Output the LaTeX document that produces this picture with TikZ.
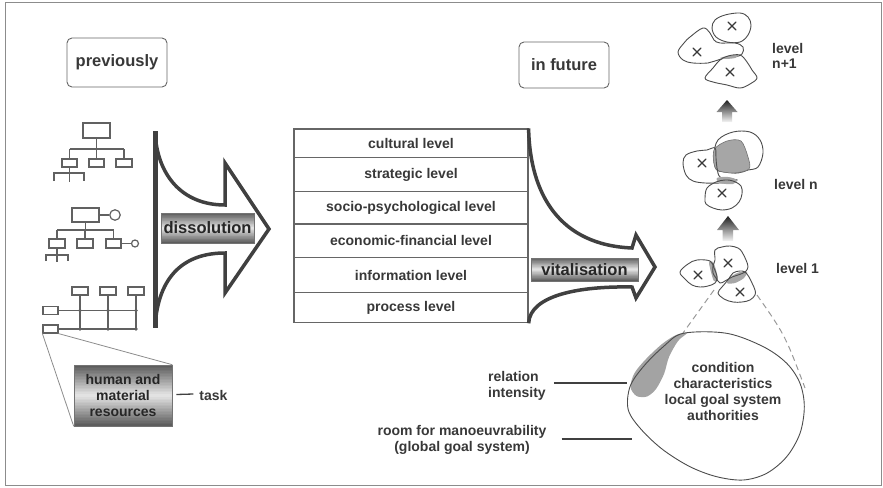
\documentclass[tikz,border=0pt]{standalone}
\usepackage{fontspec}
\setmainfont{Liberation Sans}
\usetikzlibrary{calc}
\begin{document}
\begin{tikzpicture}[x=1pt,y=-1pt,
  txt/.style={font=\fontsize{14}{16}\selectfont\bfseries, text=black!78, align=center, inner sep=0pt},
  headbox/.style={draw=black!60, line width=0.9pt, rounded corners=5pt, fill=white,
    font=\fontsize{16.5}{18}\selectfont\bfseries, text=black!78, inner sep=0pt},
  chart/.style={draw=black!62, line width=1.3pt},
  cbox/.style={draw=black!62, line width=1.2pt, inner sep=0pt},
  bigarrow/.style={draw=black!75, line width=3.5pt, line join=miter, fill=white},
  % banded fill: dark at top and bottom, light in the middle
  banner/.style={draw=black!55, line width=0.6pt, inner sep=0pt,
    path picture={
      \foreach \i in {0,...,39}{
        \pgfmathsetmacro\fa{\i/40}
        \pgfmathsetmacro\fb{(\i+1.3)/40}
        \pgfmathsetmacro\sh{10+55*abs((\i+0.5)/40-0.5)*2}
        \fill[black!\sh]
          ($(path picture bounding box.north west)!\fa!(path picture bounding box.south west)$)
          rectangle
          ($(path picture bounding box.north east)!\fb!(path picture bounding box.south east)$);
      }}},
  bannertxt/.style={inner sep=0pt, align=center},
  row/.style={draw=black!60, line width=1.2pt, minimum width=234pt, inner sep=0pt,
    font=\fontsize{14}{16}\selectfont\bfseries, text=black!78},
  blob/.style={draw=black!70, line width=0.9pt},
  overlap/.style={fill=black!35, draw=black!55, line width=0.6pt},
  cross/.style={draw=black!78, line width=1.1pt, line cap=round},
  uparrow/.style={top color=black!88, bottom color=black!4},
  lvl/.style={font=\fontsize{14}{15}\selectfont\bfseries, text=black!78, align=left, inner sep=0pt, anchor=west},
  zoomline/.style={draw=black!45, line width=0.8pt},
  dashline/.style={draw=black!40, line width=1pt, dash pattern=on 6pt off 4pt},
  xcross/.pic={\draw[cross] (-4,-4) -- (4,4) (-4,4) -- (4,-4);},
]
\useasboundingbox (0,0) rectangle (883,487);
\draw[black!45, line width=1pt] (5,3) rectangle (881,485);

% headings
\node[headbox, minimum width=100pt, minimum height=49pt] (prev) at (117,62.5) {previously};
\node[headbox, minimum width=90pt, minimum height=46pt] (fut) at (564,65) {in future};

% ---- organisation chart 1 ----
\node[cbox, minimum width=27pt, minimum height=15pt] (c1top) at (96.5,130.5) {};
\node[cbox, minimum width=15pt, minimum height=8pt] (c1a) at (69.5,163) {};
\node[cbox, minimum width=15pt, minimum height=8pt] (c1b) at (96.5,163) {};
\node[cbox, minimum width=16pt, minimum height=8pt] (c1c) at (124,163) {};
\coordinate (c1bus) at (96.5,149);
\draw[chart] (c1top.south) -- (c1bus);
\draw[chart] (c1bus -| c1a.north) -- (c1bus -| c1c.north);
\draw[chart] (c1bus -| c1a.north) -- (c1a.north);
\draw[chart] (c1bus) -- (c1b.north);
\draw[chart] (c1bus -| c1c.north) -- (c1c.north);
\draw[chart] (c1a.south) -- ++(0,14);
\draw[chart] (54,181) -- (54,173) -- (84,173) -- (84,181);

% ---- organisation chart 2 ----
\node[cbox, minimum width=27pt, minimum height=14pt] (c2top) at (85.5,215) {};
\node[cbox, circle, minimum size=10.5pt] (c2circ) at (115,215) {};
\node[cbox, minimum width=16pt, minimum height=9pt] (c2a) at (57,243.5) {};
\node[cbox, minimum width=16pt, minimum height=9pt] (c2b) at (85,243.5) {};
\node[cbox, minimum width=15pt, minimum height=9pt] (c2c) at (113.5,243.5) {};
\node[cbox, circle, minimum size=7pt] (c2small) at (135,243.5) {};
\coordinate (c2bus) at (85.5,230);
\draw[chart] (c2top.east) -- (c2circ.west);
\draw[chart] (c2c.east) -- (c2small.west);
\draw[chart] (c2top.south) -- (c2bus);
\draw[chart] (c2bus -| c2a.north) -- (c2bus -| c2c.north);
\draw[chart] (c2bus -| c2a.north) -- (c2a.north);
\draw[chart] (c2bus -| c2b.north) -- (c2b.north);
\draw[chart] (c2bus -| c2c.north) -- (c2c.north);
\draw[chart] (c2a.south) -- ++(0,13);
\draw[chart] (46,261) -- (46,255) -- (68,255) -- (68,261);

% ---- organisation chart 3 (matrix) ----
\foreach \n/\x in {g1/80, g2/108, g3/136}
  \node[cbox, minimum width=16pt, minimum height=8pt] (\n) at (\x,291) {};
\node[cbox, minimum width=15pt, minimum height=8pt] (L1) at (50.5,310.5) {};
\node[cbox, minimum width=15pt, minimum height=8pt] (L2) at (50.5,329) {};
\foreach \n in {g1,g2,g3}
  \draw[chart] (\n.south) -- (\n.south |- L2.east);
\draw[chart] (L1.east) -- (L1.east -| g3.south);
\draw[chart] (L2.east) -- (L2.east -| g3.south);
\foreach \n in {g1,g2,g3}
  \foreach \r in {L1,L2}
    \fill[black!62] (\n.south |- \r.east) circle (1.9pt);

% zoom into resources
\node[banner, minimum width=98pt, minimum height=61pt] (res) at (123,395.5) {};
\node[bannertxt, font=\fontsize{14}{16}\selectfont\bfseries] (restxt) at (res.center)
  {\color{black!85}human and\\\color{black!85}material\\\color{black!85}resources};
\draw[zoomline] (L2.south west) -- (res.south west);
\draw[zoomline] (L2.south east) -- (res.north east);
\node[txt] (task) at (213.5,395) {task};
\draw[black!75, line width=1.3pt] ([xshift=4pt,yshift=1pt]res.east) -- ([xshift=-6pt,yshift=1pt]task.west);

% ---- dissolution arrow ----
\path[bigarrow] (155,132) .. controls (157,175) and (182,205) .. (225,205)
  -- (225,163) -- (269,229) -- (225,293) -- (225,253)
  .. controls (185,253) and (158,275) .. (155,327) -- cycle;
\draw[black!75, line width=5pt] (155,131) -- (155,328);
\node[banner, minimum width=93pt, minimum height=30pt] (diss) at (207.5,228) {};
\node[bannertxt, font=\fontsize{16.5}{18}\selectfont\bfseries] (disstxt) at (diss.center)
  {\color{black!85}dissolution};

% ---- levels ----
\node[row, minimum height=28.3pt] (l1) at (411,143.15) {cultural level};
\node[row, minimum height=34.4pt] (l2) at (411,174.5) {strategic level};
\node[row, minimum height=32.3pt] (l3) at (411,207.85) {socio-psychological level};
\node[row, minimum height=33.7pt] (l4) at (411,240.85) {economic-financial level};
\node[row, minimum height=35pt] (l5) at (411,275.2) {information level};
\node[row, minimum height=30pt] (l6) at (411,307.7) {process level};

% ---- vitalisation arrow ----
\draw[bigarrow, fill=none] (l1.north east) .. controls (530,195) and (560,245) .. (632,248)
  -- (636,235) -- (655,267) -- (636,298) -- (632,287)
  .. controls (580,286) and (530,295) .. (l6.south east);
\node[banner, minimum width=107pt, minimum height=23pt] (vital) at (584.5,269.5) {};
\node[bannertxt, font=\fontsize{16.5}{18}\selectfont\bfseries] (vitaltxt) at (vital.center)
  {\color{black!85}vitalisation};

% ---- level n+1 ----
\draw[blob] plot[smooth cycle, tension=0.6] coordinates {(712,28) (715,20) (725,15) (740,13) (748,17) (751,25) (748,35) (740,42) (727,42) (716,37)};
\draw[blob] plot[smooth cycle, tension=0.6] coordinates {(678,52) (684,43) (690,37) (703,28) (710,33) (714,40) (720,43) (735,43) (743,47) (742,54) (735,57) (725,58) (715,61) (708,63) (693,63) (683,60)};
\fill[black!35] plot[smooth cycle, tension=0.6] coordinates {(720,58) (728,56) (738,55) (735,58) (724,59)};
\draw[blob] plot[smooth cycle, tension=0.6] coordinates {(713,68) (720,60) (728,56) (740,55) (747,62) (752,70) (757,78) (750,84) (740,88) (727,85) (713,82) (705,78)};
\pic at (732,26) {xcross};
\pic at (697,52) {xcross};
\pic at (730,72) {xcross};
\node[lvl] (lvn1) at (772,55.5) {level\\n+1};

% up arrow between n and n+1
\path[uparrow] (727,100) -- (737.5,112) -- (732,112) -- (732,122) -- (722,122) -- (722,112) -- (716.5,112) -- cycle;

% ---- level n ----
\draw[blob] plot[smooth cycle, tension=0.6] coordinates {(718,140) (733,132) (750,132) (760,140) (763,153) (758,167) (748,170) (738,173) (725,172) (716,169) (714,155)};
\path[overlap] plot[smooth cycle, tension=0.5] coordinates {(714,150) (727,141) (741,141) (748,157) (749,169) (733,173) (716,169)};
\draw[blob] plot[smooth cycle, tension=0.6] coordinates {(683,163) (686,155) (697,151) (707,150) (715,148) (716,158) (717,168) (720,177) (730,179) (737,180) (730,182) (720,183) (705,183) (693,181) (686,175)};
\fill[black!35] plot[smooth cycle, tension=0.6] coordinates {(717,178) (728,177) (737,180) (733,184) (720,183)};
\draw[blob] plot[smooth cycle, tension=0.6] coordinates {(705,198) (707,188) (716,182) (725,180) (733,181) (741,186) (742,194) (739,202) (732,208) (722,210) (713,208) (706,204)};
\pic at (702,163) {xcross};
\pic at (722,193) {xcross};
\node[lvl] (lvn) at (774,184) {level n};

% up arrow between 1 and n
\path[uparrow] (728,216) -- (739,230) -- (733,230) -- (733,241) -- (722.5,241) -- (722.5,230) -- (717,230) -- cycle;

% ---- level 1 ----
\fill[black!35] plot[smooth cycle, tension=0.5] coordinates {(709,262) (713,262) (716,270) (718,280) (714,281) (711,272)};
\fill[black!35] plot[smooth cycle, tension=0.5] coordinates {(727,283) (732,276) (740,272) (747,272) (744,278) (735,283)};
\draw[blob] plot[smooth cycle, tension=0.6] coordinates {(680,272) (688,264) (697,260) (710,261) (714,268) (717,277) (715,283) (708,286) (700,287) (692,285) (685,279)};
\draw[blob] plot[smooth cycle, tension=0.6] coordinates {(715,250) (722,247) (730,246) (738,248) (742,252) (746,260) (748,267) (745,272) (738,275) (732,277) (725,281) (720,283) (716,278) (713,273) (713,266) (715,260)};
\draw[blob] plot[smooth cycle, tension=0.6] coordinates {(728,280) (733,273) (740,271) (745,272) (749,277) (752,283) (755,290) (755,295) (750,300) (742,302) (733,302) (724,299) (718,293) (722,287)};
\pic at (698,275) {xcross};
\pic at (728,263) {xcross};
\pic at (740,292) {xcross};
\node[lvl] (lv1) at (776,268) {level 1};

% ---- enlarged element ----
\coordinate (topL) at (714,290);
\coordinate (topR) at (757,295);
\coordinate (blobTL) at (683,333);
\coordinate (blobR) at (805,388);
\draw[dashline] (topL) -- (blobTL);
\draw[dashline] (topR) .. controls (785,335) .. (blobR);
\path[fill=black!36] plot[smooth cycle, tension=0.5] coordinates {(687,333) (678,341) (669,357) (664,374) (656,389) (647,396.5) (636.5,396) (630.5,387) (634.5,373) (646,359) (662,344) (676,335)};
\draw[blob] plot[smooth cycle, tension=0.55] coordinates {(683.3,333.3) (726.7,333.3) (763.3,346.7) (786.7,363.3) (800,383.3) (804.3,406.7) (800,433.3) (786.7,456.7) (766.7,473.3) (743.3,480) (716.7,476.7) (690,466.7) (663.3,450) (641.7,430) (628.3,410) (630,386.7) (643.3,366.7) (663.3,346.7)};
\node[txt] (props) at (723,391.75) {condition\\characteristics\\local goal system\\authorities};

\coordinate (relend) at (627,383);
\coordinate (roomend) at (632,439);
\node[txt, align=left, anchor=west] (rel) at (488,386) {relation\\intensity};
\node[txt] (room) at (462,439.5) {room for manoeuvrability\\(global goal system)};
\draw[black!75, line width=1.3pt] (rel.east |- relend) ++(8,0) -- (relend);
\draw[black!75, line width=1.3pt] (room.east |- roomend) ++(15,0) -- (roomend);
\end{tikzpicture}
\end{document}
